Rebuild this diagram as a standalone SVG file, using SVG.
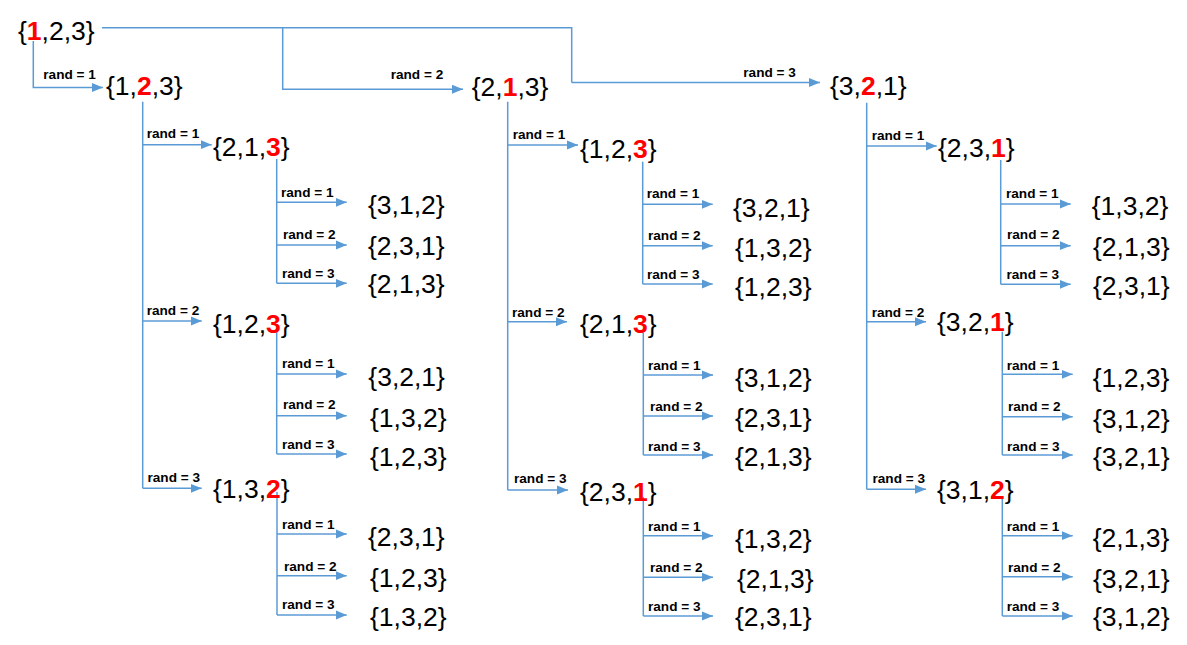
<svg xmlns="http://www.w3.org/2000/svg" width="1187" height="645" viewBox="0 0 1187 645">
<defs>
<style>
.c{fill:none;stroke:#5B9BD5;stroke-width:1.5}
.a{marker-end:url(#ah)}
.n{font-family:"Liberation Sans",Arial,sans-serif;font-size:26.5px;fill:#000}
.r{fill:#FF0000;font-weight:bold}
.l{font-family:"Liberation Sans",Arial,sans-serif;font-size:13.6px;font-weight:bold;fill:#000}
</style>
<marker id="ah" markerUnits="userSpaceOnUse" markerWidth="12" markerHeight="10" refX="11" refY="5" orient="auto">
<path d="M0,0.5 L11,5 L0,9.5 Z" fill="#5B9BD5"/>
</marker>
</defs>
<rect width="1187" height="645" fill="#fff"/>

<g id="connectors">
<path class="c a" d="M33.3,41 V87.5 H103"/>
<path class="c" d="M102,27.7 H571.7 V82.5"/>
<path class="c a" d="M282.7,27.7 V89.3 H463"/>
<path class="c a" d="M571.7,82.5 H820"/>
<path class="c" d="M142.7,101.7 V488.3"/>
<path class="c a" d="M142.7,144.7 H211.7"/>
<path class="c a" d="M142.7,321 H201.7"/>
<path class="c a" d="M142.7,488.3 H201.7"/>
<path class="c" d="M276.7,159 V283.3"/>
<path class="c a" d="M276.7,202.3 H346.7"/>
<path class="c a" d="M276.7,245 H346.7"/>
<path class="c a" d="M276.7,283.3 H346.7"/>
<path class="c" d="M276.7,332 V454"/>
<path class="c a" d="M276.7,374 H346.7"/>
<path class="c a" d="M276.7,415.7 H346.7"/>
<path class="c a" d="M276.7,454 H346.7"/>
<path class="c" d="M277,492 V615"/>
<path class="c a" d="M277,534 H346.7"/>
<path class="c a" d="M277,575.7 H346.7"/>
<path class="c a" d="M277,615 H346.7"/>
<path class="c" d="M507.7,101.7 V490"/>
<path class="c a" d="M507.7,145 H578"/>
<path class="c a" d="M507.7,321.7 H567"/>
<path class="c a" d="M507.7,490 H568"/>
<path class="c" d="M642.7,161.7 V284"/>
<path class="c a" d="M642.7,204.3 H712.7"/>
<path class="c a" d="M642.7,245.7 H712.7"/>
<path class="c a" d="M642.7,284 H712.7"/>
<path class="c" d="M643.3,332.7 V455"/>
<path class="c a" d="M643.3,375 H713"/>
<path class="c a" d="M643.3,416 H713"/>
<path class="c a" d="M643.3,455 H713"/>
<path class="c" d="M643.3,497 V616"/>
<path class="c a" d="M643.3,535.7 H713"/>
<path class="c a" d="M643.3,577.3 H713"/>
<path class="c a" d="M643.3,616 H713"/>
<path class="c" d="M866.7,102.7 V489.3"/>
<path class="c a" d="M866.7,146 H936.7"/>
<path class="c a" d="M866.7,321.7 H926"/>
<path class="c a" d="M866.7,489.3 H926"/>
<path class="c" d="M1000.7,160 V284.3"/>
<path class="c a" d="M1000.7,204 H1070.7"/>
<path class="c a" d="M1000.7,245.7 H1070.7"/>
<path class="c a" d="M1000.7,284.3 H1070.7"/>
<path class="c" d="M1002.3,331.7 V455"/>
<path class="c a" d="M1002.3,374.3 H1072.7"/>
<path class="c a" d="M1002.3,416.7 H1072.7"/>
<path class="c a" d="M1002.3,455 H1072.7"/>
<path class="c" d="M1002.3,496.7 V616"/>
<path class="c a" d="M1002.3,535.7 H1072.7"/>
<path class="c a" d="M1002.3,576.7 H1072.7"/>
<path class="c a" d="M1002.3,616 H1072.7"/>

<text class="l" x="43.3" y="79">rand = 1</text>
<text class="l" x="390.7" y="79.3">rand = 2</text>
<text class="l" x="743.3" y="77">rand = 3</text>

<text class="l" x="146.7" y="138.3">rand = 1</text>
<text class="l" x="146.7" y="315">rand = 2</text>
<text class="l" x="147.5" y="481.7">rand = 3</text>
<text class="l" x="281" y="197">rand = 1</text>
<text class="l" x="283" y="239">rand = 2</text>
<text class="l" x="282" y="278">rand = 3</text>
<text class="l" x="282" y="368">rand = 1</text>
<text class="l" x="283" y="409">rand = 2</text>
<text class="l" x="282" y="449">rand = 3</text>
<text class="l" x="282" y="529">rand = 1</text>
<text class="l" x="284" y="570.7">rand = 2</text>
<text class="l" x="282" y="609">rand = 3</text>

<text class="l" x="512.7" y="139">rand = 1</text>
<text class="l" x="512" y="316.7">rand = 2</text>
<text class="l" x="514" y="483">rand = 3</text>
<text class="l" x="646.7" y="198.3">rand = 1</text>
<text class="l" x="648" y="240">rand = 2</text>
<text class="l" x="647" y="279">rand = 3</text>
<text class="l" x="648" y="370">rand = 1</text>
<text class="l" x="650" y="410.7">rand = 2</text>
<text class="l" x="648" y="450.7">rand = 3</text>
<text class="l" x="648" y="530.7">rand = 1</text>
<text class="l" x="650" y="571.7">rand = 2</text>
<text class="l" x="648" y="611">rand = 3</text>

<text class="l" x="871.7" y="140">rand = 1</text>
<text class="l" x="871.7" y="316.7">rand = 2</text>
<text class="l" x="872.5" y="483">rand = 3</text>
<text class="l" x="1006" y="198.3">rand = 1</text>
<text class="l" x="1007" y="239.3">rand = 2</text>
<text class="l" x="1006.5" y="279.3">rand = 3</text>
<text class="l" x="1006.7" y="370">rand = 1</text>
<text class="l" x="1008" y="410.7">rand = 2</text>
<text class="l" x="1007" y="450.7">rand = 3</text>
<text class="l" x="1006.7" y="530.7">rand = 1</text>
<text class="l" x="1008" y="571.7">rand = 2</text>
<text class="l" x="1006.7" y="610.7">rand = 3</text>
</g>

<g id="root"><text class="n" x="18" y="39.5">{<tspan class="r">1</tspan>,2,3}</text></g>

<g id="n1"><text class="n" x="106" y="94.5">{1,<tspan class="r">2</tspan>,3}</text></g>
<g id="n2"><text class="n" x="471.7" y="95.5">{2,<tspan class="r">1</tspan>,3}</text></g>
<g id="n3"><text class="n" x="830" y="95">{3,<tspan class="r">2</tspan>,1}</text></g>

<g id="n11"><text class="n" x="213" y="156">{2,1,<tspan class="r">3</tspan>}</text></g>
<g id="n12"><text class="n" x="213" y="333">{1,2,<tspan class="r">3</tspan>}</text></g>
<g id="n13"><text class="n" x="213" y="498">{1,3,<tspan class="r">2</tspan>}</text></g>
<g id="n21"><text class="n" x="580" y="158">{1,2,<tspan class="r">3</tspan>}</text></g>
<g id="n22"><text class="n" x="580" y="333">{2,1,<tspan class="r">3</tspan>}</text></g>
<g id="n23"><text class="n" x="580" y="501">{2,3,<tspan class="r">1</tspan>}</text></g>
<g id="n31"><text class="n" x="938" y="157">{2,3,<tspan class="r">1</tspan>}</text></g>
<g id="n32"><text class="n" x="937" y="331">{3,2,<tspan class="r">1</tspan>}</text></g>
<g id="n33"><text class="n" x="937" y="499">{3,1,<tspan class="r">2</tspan>}</text></g>

<g id="n111"><text class="n" x="368" y="214">{3,1,2}</text></g>
<g id="n112"><text class="n" x="368" y="255">{2,3,1}</text></g>
<g id="n113"><text class="n" x="368" y="293">{2,1,3}</text></g>
<g id="n121"><text class="n" x="368.3" y="386">{3,2,1}</text></g>
<g id="n122"><text class="n" x="370" y="426.7">{1,3,2}</text></g>
<g id="n123"><text class="n" x="370" y="466">{1,2,3}</text></g>
<g id="n131"><text class="n" x="368" y="546">{2,3,1}</text></g>
<g id="n132"><text class="n" x="370" y="586.7">{1,2,3}</text></g>
<g id="n133"><text class="n" x="370" y="626">{1,3,2}</text></g>

<g id="n211"><text class="n" x="733" y="217">{3,2,1}</text></g>
<g id="n212"><text class="n" x="735" y="256.7">{1,3,2}</text></g>
<g id="n213"><text class="n" x="735" y="296">{1,2,3}</text></g>
<g id="n221"><text class="n" x="735" y="386.7">{3,1,2}</text></g>
<g id="n222"><text class="n" x="735" y="427">{2,3,1}</text></g>
<g id="n223"><text class="n" x="735" y="466">{2,1,3}</text></g>
<g id="n231"><text class="n" x="735" y="548">{1,3,2}</text></g>
<g id="n232"><text class="n" x="737" y="588">{2,1,3}</text></g>
<g id="n233"><text class="n" x="735" y="626">{2,3,1}</text></g>

<g id="n311"><text class="n" x="1091.7" y="215">{1,3,2}</text></g>
<g id="n312"><text class="n" x="1093" y="256">{2,1,3}</text></g>
<g id="n313"><text class="n" x="1093" y="295">{2,3,1}</text></g>
<g id="n321"><text class="n" x="1092.7" y="387">{1,2,3}</text></g>
<g id="n322"><text class="n" x="1093" y="428">{3,1,2}</text></g>
<g id="n323"><text class="n" x="1093" y="466">{3,2,1}</text></g>
<g id="n331"><text class="n" x="1092.7" y="547">{2,1,3}</text></g>
<g id="n332"><text class="n" x="1093" y="588">{3,2,1}</text></g>
<g id="n333"><text class="n" x="1093" y="626">{3,1,2}</text></g>
</svg>
